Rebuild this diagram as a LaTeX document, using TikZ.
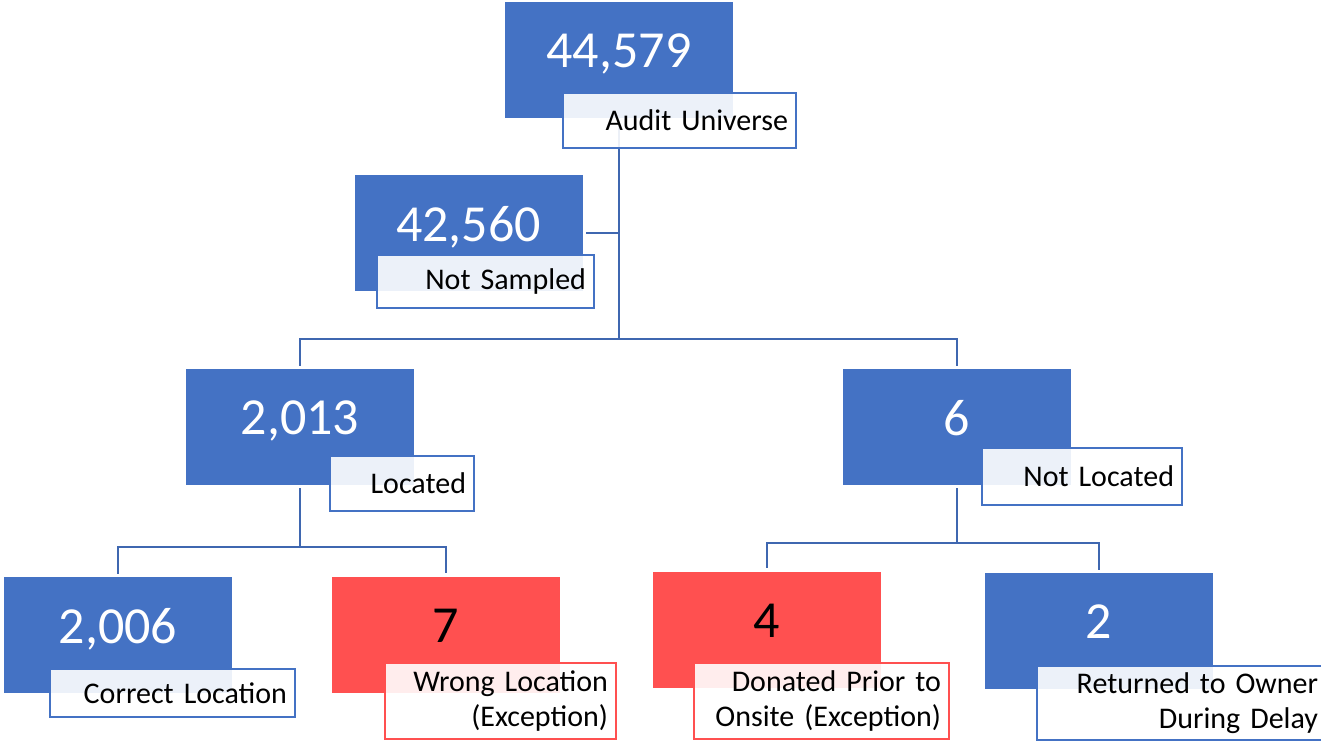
\documentclass[tikz,border=0pt]{standalone}
\usepackage{fontspec}
\setmainfont{Carlito}[WordSpace={0.6,0,0}]
\definecolor{boxblue}{HTML}{4472C4}
\definecolor{boxred}{HTML}{FF5050}
\definecolor{linkblue}{HTML}{3F67B0}
\tikzset{
	bluebox/.style={fill=boxblue, text=white, minimum width=228pt, minimum height=116pt,
		inner sep=0pt, text depth=18pt, font=\fontsize{52}{60}\selectfont},
	redbox/.style={bluebox, fill=boxred, text=black},
	tag/.style={draw=boxblue, line width=2pt, fill=white, fill opacity=0.9, text opacity=1,
		align=right, inner xsep=8pt, inner ysep=0pt, font=\fontsize{30}{35}\selectfont},
	redtag/.style={tag, draw=boxred},
	link/.style={draw=linkblue, line width=2pt},
}
\begin{document}
\begin{tikzpicture}[x=1pt,y=-1pt]
		\useasboundingbox (0,0) rectangle (1321,741);
		\foreach \n/\x/\y/\s/\t in {univ/619/60/bluebox/{44,579}, nosamp/468.5/232.5/bluebox/{42,560},
			loc/300/427/bluebox/{2,013}, notloc/957/427/bluebox/6,
			correct/118/635/bluebox/{2,006}, wrong/446/634.5/redbox/7,
			donated/766.5/629.5/redbox/4, returned/1098.5/631/bluebox/2}{
		\node[\s] (\n) at (\x,\y) {\t};
		};
		\coordinate (fork1) at (619,339);
		\coordinate (fork2) at (300,547);
		\coordinate (fork3) at (957,543);

		\draw[link, shorten <=3pt] (univ.south) -- (fork1);
		\draw[link, shorten >=3pt] (univ.south |- nosamp.east) -- (nosamp.east);
		\draw[link, shorten >=3pt] (fork1) -| (loc.north);
		\draw[link, shorten >=3pt] (fork1) -| (notloc.north);

		\draw[link, shorten <=3pt] (loc.south) -- (fork2);
		\draw[link, shorten >=3pt] (fork2) -| (correct.north);
		\draw[link, shorten >=3pt] (fork2) -| (wrong.north);

		\draw[link, shorten <=3pt] (notloc.south) -- (fork3);
		\draw[link, shorten >=3pt] (fork3) -| (donated.north);
		\draw[link, shorten >=3pt] (fork3) -| (returned.north);

		\foreach \n/\x/\y/\w/\h/\s/\t in {univ/679.5/120.5/233/55/tag/Audit Universe,
			nosamp/485.5/281.5/217/53/tag/Not Sampled, loc/402/483.5/144/55/tag/Located,
			notloc/1082/476.5/200/57/tag/Not Located, correct/172.5/693/245/48/tag/Correct Location,
			wrong/500.5/701/231/76/redtag/{Wrong Location\\(Exception)},
			donated/821.5/701/255/76/redtag/{Donated Prior to\\Onsite (Exception)},
			returned/1181.5/703/289/74/tag/{Returned to Owner\\During Delay}}{
		\pgfmathsetmacro\tw{\w-16}
		\node[\s, minimum width=\w pt, minimum height=\h pt, text width=\tw pt] (\n-tag) at (\x,\y) {\t};
		};
	\end{tikzpicture}
\end{document}
